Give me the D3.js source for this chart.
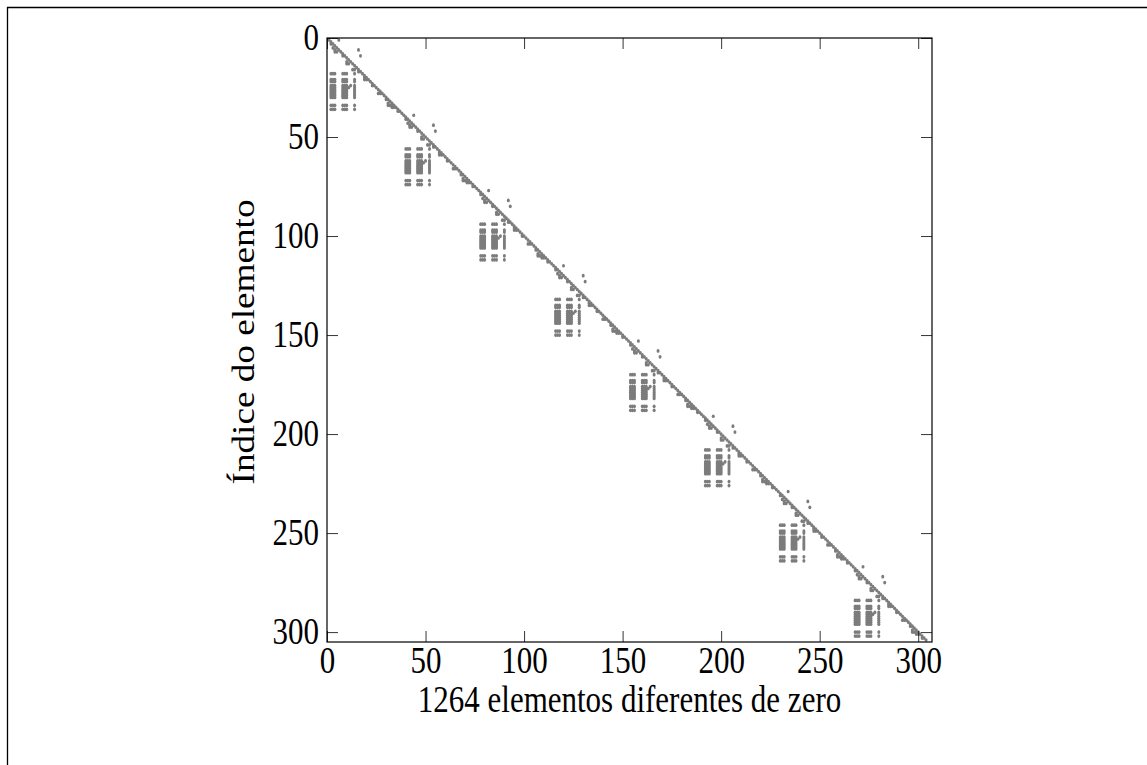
<!DOCTYPE html>
<html>
<head>
<meta charset="utf-8">
<script src="https://cdn.jsdelivr.net/npm/d3@7/dist/d3.min.js"></script>
<style>
html,body{margin:0;padding:0;background:#fff;}
svg text{font-family:"Liberation Serif","DejaVu Serif",serif;fill:#000;}
</style>
</head>
<body>
<svg id="chart" width="1147" height="765"></svg>
<script>
// ---- data ----
// the matrix is made of 8 identical diagonal blocks of size 38
const blockStarts = [0, 38, 76, 114, 152, 190, 228, 266];
// main diagonal inside a block (1-based local index)
const diagIdx = [1,2,3,4,5,6,7,8,9,10,11,12,13,14,15,16,17,18,19,20,21,22,23,24,25,26,27,28,29,30,31,32,33,34,35,36,37,38];
// extra entries just below / above the diagonal (local row, local col)
const bandRows = [3,5,6,7,7,9,12,13,13,16,16,17,20,21,21,24,28,28,31,33,34,34,34,35,35,37, 1,6,9, 24,25];
const bandCols = [2,3,4,4,5,8,10,10,11,13,14,16,19,19,20,23,26,27,30,31,31,32,33,33,34,36, 6,16,17, 12,11];
// lower-left coupling sub-block: rows x columns
const subRows = [18,21,22,24,25,26,27,28,29,30,34,36];
const subCols = [2,3,4,8,9,10,14];
const xTicks = [0,50,100,150,200,250,300];
const yTicks = [0,50,100,150,200,250,300];
const xLabel = "1264 elementos diferentes de zero";
const yLabel = "Índice do elemento";

// ---- build point list ----
const pts = [];
blockStarts.forEach(s => {
  diagIdx.forEach(i => pts.push({r: s + i, c: s + i}));
  bandRows.forEach((r, k) => pts.push({r: s + r, c: s + bandCols[k]}));
  subRows.forEach(r => subCols.forEach(c => pts.push({r: s + r, c: s + c})));
});

// ---- layout ----
const svg = d3.select("#chart");
const L = 327, R = 932, T = 38, B = 642;
const SY = 1.2;           // vertical stretch of the original picture
const fs = 31;
const x = d3.scaleLinear().domain([0, 307]).range([L, R]);
const y = d3.scaleLinear().domain([0, 305]).range([T, B]);

// outer frame
svg.append("path").attr("d", "M7.5,770 V7.5 H1160")
  .attr("fill", "none").attr("stroke", "#000").attr("stroke-width", 1.3);

// points
svg.append("g").selectAll("ellipse").data(pts).enter().append("ellipse")
  .attr("cx", d => x(d.c)).attr("cy", d => y(d.r)).attr("rx", 1.5).attr("ry", 1.85)
  .attr("fill", "#7c7c7c");

// axes
const tickLen = 11;
const gB = svg.append("g").attr("transform", `translate(0,${B})`)
  .call(d3.axisBottom(x).tickValues(xTicks).tickSizeInner(-tickLen).tickSizeOuter(0));
const gT = svg.append("g").attr("transform", `translate(0,${T})`)
  .call(d3.axisTop(x).tickValues(xTicks).tickSizeInner(-tickLen).tickSizeOuter(0).tickFormat(""));
const gL = svg.append("g").attr("transform", `translate(${L},0)`)
  .call(d3.axisLeft(y).tickValues(yTicks).tickSizeInner(-tickLen).tickSizeOuter(0));
const gR = svg.append("g").attr("transform", `translate(${R},0)`)
  .call(d3.axisRight(y).tickValues(yTicks).tickSizeInner(-tickLen).tickSizeOuter(0).tickFormat(""));
[gB,gT,gL,gR].forEach(g => {
  g.select(".domain").remove();
  g.selectAll("line").attr("stroke", "#000").attr("stroke-width", 0.8);
  g.selectAll("text").attr("font-size", fs).attr("font-family", '"Liberation Serif",serif').attr("fill", "#000");
});
gB.selectAll("text").attr("dy", 0).attr("y", (673 - B) / SY).attr("transform", `scale(1,${SY})`);
gL.selectAll("text").attr("dy", 0).attr("x", -8).attr("y", 11.5 / SY).attr("transform", `scale(1,${SY})`);

// frame of the plot
svg.append("rect").attr("x", L).attr("y", T).attr("width", R - L).attr("height", B - T)
  .attr("fill", "none").attr("stroke", "#000").attr("stroke-width", 1.2);

// labels
svg.append("text").attr("transform", `translate(${(L + R) / 2},712) scale(1,${SY})`)
  .attr("text-anchor", "middle").attr("font-size", fs).text(xLabel);
svg.append("text").attr("transform", `translate(254,342) rotate(-90) scale(${SY},1)`)
  .attr("text-anchor", "middle").attr("font-size", fs).text(yLabel);
</script>
</body>
</html>
